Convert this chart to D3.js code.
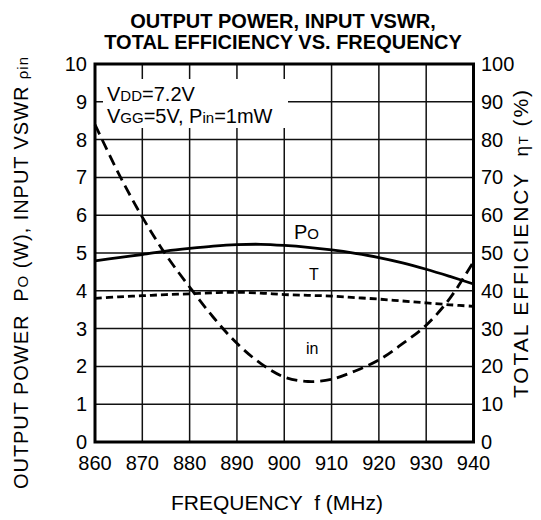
<!DOCTYPE html>
<html><head><meta charset="utf-8">
<script src="https://cdn.jsdelivr.net/npm/d3@7"></script>
<style>body{margin:0;background:#fff}svg{display:block}text{font-family:"Liberation Sans",Arial,sans-serif;fill:#000;white-space:pre}</style>
</head><body>
<script>
const freq = [860,865,870,875,880,885,890,895,900,905,910,915,920,925,930,935,940];
const po   = [4.79,4.88,4.96,5.05,5.12,5.18,5.22,5.23,5.20,5.15,5.08,4.99,4.88,4.74,4.57,4.38,4.18];
const eff  = [38.0,38.4,38.7,39.0,39.2,39.5,39.6,39.4,39.0,38.8,38.6,38.2,37.8,37.3,36.8,36.3,35.9];
const vswr = [8.4,7.1,5.95,4.95,4.1,3.3,2.61,2.08,1.72,1.6,1.66,1.88,2.17,2.6,3.09,3.8,4.77];
const xTicks = [860,870,880,890,900,910,920,930,940];
const yLeftTicks = [0,1,2,3,4,5,6,7,8,9,10];
const yRightTicks = [0,10,20,30,40,50,60,70,80,90,100];

const W=541,H=520;
const svg=d3.select("body").append("svg").attr("width",W).attr("height",H);
const x=d3.scaleLinear().domain([860,940]).range([95,473.5]);
const yL=d3.scaleLinear().domain([0,10]).range([442,64]);
const yR=d3.scaleLinear().domain([0,100]).range([442,64]);

// grid
const g=svg.append("g");
g.selectAll(".vg").data(xTicks.slice(1,-1)).enter().append("line")
 .attr("x1",d=>x(d)).attr("x2",d=>x(d)).attr("y1",yL(10)).attr("y2",yL(0))
 .attr("stroke","#111").attr("stroke-width",1.5);
g.selectAll(".hg").data(yLeftTicks.slice(1,-1)).enter().append("line")
 .attr("x1",x(860)).attr("x2",x(940)).attr("y1",d=>yL(d)).attr("y2",d=>yL(d))
 .attr("stroke","#111").attr("stroke-width",1.5);

// legend box
svg.append("rect").attr("x",103).attr("y",79).attr("width",185).attr("height",49).attr("fill","#fff");
const t1=svg.append("text").attr("x",107).attr("y",101).attr("font-size",20);
t1.append("tspan").text("V");t1.append("tspan").attr("font-size",15).text("DD");t1.append("tspan").text("=7.2V");
const t2=svg.append("text").attr("x",107).attr("y",123).attr("font-size",20);
t2.append("tspan").text("V");t2.append("tspan").attr("font-size",15).text("GG");t2.append("tspan").text("=5V, P");
t2.append("tspan").attr("font-size",15).text("in");t2.append("tspan").text("=1mW");

// curves
const lineL=d3.line().x((d,i)=>x(freq[i])).y(d=>yL(d)).curve(d3.curveCatmullRom);
const lineR=d3.line().x((d,i)=>x(freq[i])).y(d=>yR(d)).curve(d3.curveCatmullRom);
svg.append("path").attr("d",lineL(po)).attr("fill","none").attr("stroke","#000").attr("stroke-width",2.8);
svg.append("path").attr("d",lineR(eff)).attr("fill","none").attr("stroke","#000").attr("stroke-width",2.8).attr("stroke-dasharray","7,4");
svg.append("path").attr("d",lineL(vswr)).attr("fill","none").attr("stroke","#000").attr("stroke-width",2.8).attr("stroke-dasharray","11,6");

// frame
svg.append("rect").attr("x",x(860)).attr("y",yL(10)).attr("width",x(940)-x(860)).attr("height",yL(0)-yL(10))
 .attr("fill","none").attr("stroke","#000").attr("stroke-width",3);

// curve labels
const pl=svg.append("text").attr("x",294).attr("y",239).attr("font-size",20);
pl.append("tspan").text("P");pl.append("tspan").attr("font-size",15).text("O");
svg.append("text").attr("x",309).attr("y",280).attr("font-size",16).text("T");
svg.append("text").attr("x",306).attr("y",354).attr("font-size",16).text("in");

// axes tick labels
svg.selectAll(".yl").data(yLeftTicks).enter().append("text")
 .attr("x",87).attr("y",d=>yL(d)+7).attr("text-anchor","end").attr("font-size",20).text(d=>d);
svg.selectAll(".yr").data(yRightTicks).enter().append("text")
 .attr("x",481).attr("y",d=>yR(d)+7).attr("text-anchor","start").attr("font-size",20).text(d=>d);
svg.selectAll(".xl").data(xTicks).enter().append("text")
 .attr("x",d=>x(d)).attr("y",470).attr("text-anchor","middle").attr("font-size",20).text(d=>d);

// titles
svg.append("text").attr("x",283).attr("y",28).attr("text-anchor","middle").attr("font-size",20).attr("font-weight","bold").text("OUTPUT POWER, INPUT VSWR,");
svg.append("text").attr("x",283).attr("y",49).attr("text-anchor","middle").attr("font-size",20).attr("font-weight","bold").text("TOTAL EFFICIENCY VS. FREQUENCY");
svg.append("text").attr("x",277).attr("y",510).attr("text-anchor","middle").attr("font-size",21).text("FREQUENCY  f (MHz)");

const yl=svg.append("text").attr("transform","translate(28,273) rotate(-90)").attr("text-anchor","middle").attr("font-size",20)
 .attr("textLength",432).attr("lengthAdjust","spacing");
yl.append("tspan").text("OUTPUT POWER  P");yl.append("tspan").attr("font-size",15).text("O");
yl.append("tspan").text(" (W), INPUT VSWR ");yl.append("tspan").attr("font-size",15).text("ρin");

const yr=svg.append("text").attr("transform","translate(528,244) rotate(-90)").attr("text-anchor","middle").attr("font-size",21)
 .attr("textLength",308).attr("lengthAdjust","spacing");
yr.append("tspan").text("TOTAL EFFICIENCY  ");yr.append("tspan").attr("font-size",19).text("η");
yr.append("tspan").attr("font-size",13).text("T");yr.append("tspan").text(" (%)");
</script>
</body></html>
